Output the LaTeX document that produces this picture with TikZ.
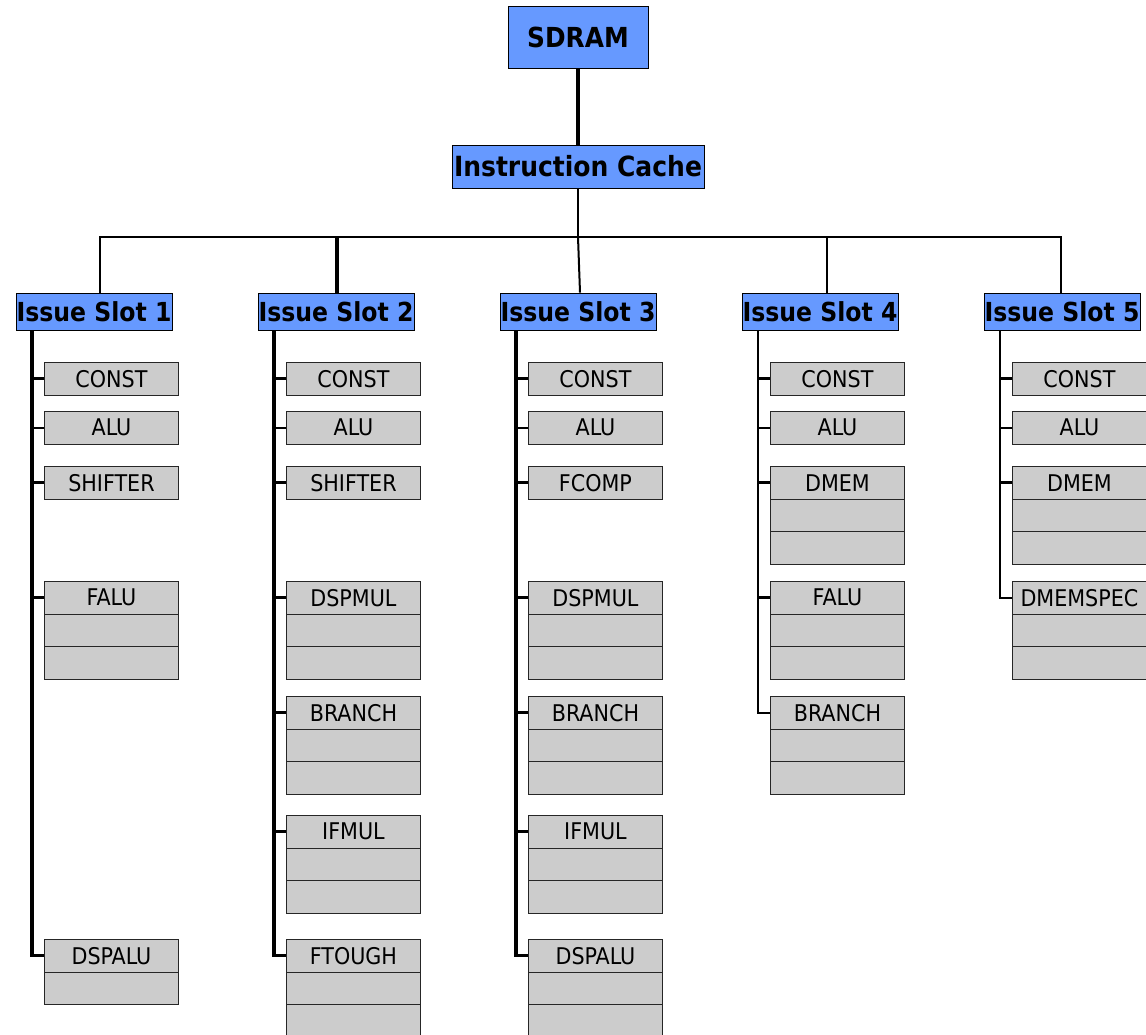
\documentclass[tikz,border=0pt]{standalone}
\usepackage{fontspec}
\setmainfont{DejaVu Sans Condensed}
\definecolor{headblue}{HTML}{6699FF}
\definecolor{unitgray}{HTML}{CCCCCC}
% one functional unit: a labelled row only
\newcommand\fusingle[4]{%
  \node[unit] (#1) at (#2,#3) {#4};}
% a functional unit with #5 empty rows below its label row
\newcommand\fustack[5]{%
  \node[unit] (#1) at (#2,#3) {#4};
  \foreach \k in {1,...,#5} {\node[unit] (#1-\k) at (#2,#3+32.5*\k) {};}}
\begin{document}
\begin{tikzpicture}[x=1pt,y=-1pt,
  head/.style={draw=black, line width=0.9pt, fill=headblue,
    font=\bfseries\fontsize{26.2}{26}\selectfont, inner sep=0pt,
    minimum height=37pt, minimum width=156pt},
  unit/.style={draw=black!85, line width=0.9pt, fill=unitgray,
    font=\fontsize{23}{23}\selectfont, inner sep=0pt,
    minimum width=134pt, minimum height=32.5pt, anchor=north west},
  bus/.style={line width=2pt},
  trunk/.style={line width=3.2pt},
  stub/.style={line width=2.8pt},
  thinstub/.style={line width=1.8pt}]
\useasboundingbox (0,0) rectangle (1146,1035);

% memory hierarchy
\node[head, minimum width=140pt, minimum height=62pt,
  font=\bfseries\fontsize{27.6}{28}\selectfont] (sd) at (578,37) {SDRAM};
\node[head, minimum width=252pt, minimum height=43pt,
  font=\bfseries\fontsize{27.8}{28}\selectfont] (ic) at (578,166.5) {Instruction Cache};
\draw[line width=3.2pt] (sd) -- (ic);

% issue slots
\node[head] (s1) at (94,311.5) {Issue Slot 1};
\node[head] (s2) at (336,311.5) {Issue Slot 2};
\node[head] (s3) at (578,311.5) {Issue Slot 3};
\node[head] (s4) at (820,311.5) {Issue Slot 4};
\node[head] (s5) at (1062,311.5) {Issue Slot 5};

\coordinate (bus) at (578,237);
\draw[bus] (ic.south) -- (bus);
\draw[bus] ([xshift=6pt]s1.north) |- ([xshift=-1pt]s5.north |- bus) -- ([xshift=-1pt]s5.north);
\draw[trunk] ([xshift=1pt]s2.north) -- ([xshift=1pt]s2.north |- bus);
\draw[bus] ([xshift=2pt]s3.north) -- (bus);
\draw[bus] ([xshift=7pt]s4.north) -- ([xshift=7pt]s4.north |- bus);

% slot 1 units
\fusingle{s1a}{44}{362}{CONST}
\fusingle{s1b}{44}{411}{ALU}
\fusingle{s1c}{44}{466}{SHIFTER}
\fustack{s1d}{44}{581}{FALU}{2}
\fustack{s1e}{44}{939}{DSPALU}{1}

% slot 2 units
\fusingle{s2a}{286}{362}{CONST}
\fusingle{s2b}{286}{411}{ALU}
\fusingle{s2c}{286}{466}{SHIFTER}
\fustack{s2d}{286}{581}{DSPMUL}{2}
\fustack{s2e}{286}{696}{BRANCH}{2}
\fustack{s2f}{286}{815}{IFMUL}{2}
\fustack{s2g}{286}{939}{FTOUGH}{2}

% slot 3 units
\fusingle{s3a}{528}{362}{CONST}
\fusingle{s3b}{528}{411}{ALU}
\fusingle{s3c}{528}{466}{FCOMP}
\fustack{s3d}{528}{581}{DSPMUL}{2}
\fustack{s3e}{528}{696}{BRANCH}{2}
\fustack{s3f}{528}{815}{IFMUL}{2}
\fustack{s3g}{528}{939}{DSPALU}{2}

% slot 4 units
\fusingle{s4a}{770}{362}{CONST}
\fusingle{s4b}{770}{411}{ALU}
\fustack{s4c}{770}{466}{DMEM}{2}
\fustack{s4d}{770}{581}{FALU}{2}
\fustack{s4e}{770}{696}{BRANCH}{2}

% slot 5 units
\fusingle{s5a}{1012}{362}{CONST}
\fusingle{s5b}{1012}{411}{ALU}
\fustack{s5c}{1012}{466}{DMEM}{2}
\fustack{s5d}{1012}{581}{DMEMSPEC}{2}

% trunks from each slot to its units
\coordinate (t1) at (32,330);
\coordinate (t2) at (274,330);
\coordinate (t3) at (516,330);
\coordinate (t4) at (758,330);
\coordinate (t5) at (1000,330);

\draw[trunk] (t1) |- (s1e.west);
\foreach \u in {s1a,s1c,s1d} \draw[stub] (\u.west) -- (\u.west -| t1);
\draw[thinstub] (s1b.west) -- (s1b.west -| t1);
\draw[trunk] (t2) |- (s2g.west);
\foreach \u in {s2a,s2c,s2d,s2e,s2f} \draw[stub] (\u.west) -- (\u.west -| t2);
\draw[thinstub] (s2b.west) -- (s2b.west -| t2);
\draw[trunk] (t3) |- (s3g.west);
\foreach \u in {s3a,s3c,s3d,s3e,s3f} \draw[stub] (\u.west) -- (\u.west -| t3);
\draw[thinstub] (s3b.west) -- (s3b.west -| t3);
\draw[thinstub] (t4) |- (s4e.west);
\foreach \u in {s4a,s4c,s4d} \draw[stub] (\u.west) -- (\u.west -| t4);
\draw[thinstub] (s4b.west) -- (s4b.west -| t4);
\draw[thinstub] (t5) |- (s5d.west);
\foreach \u in {s5a,s5c} \draw[stub] (\u.west) -- (\u.west -| t5);
\draw[thinstub] (s5b.west) -- (s5b.west -| t5);
\end{tikzpicture}
\end{document}
